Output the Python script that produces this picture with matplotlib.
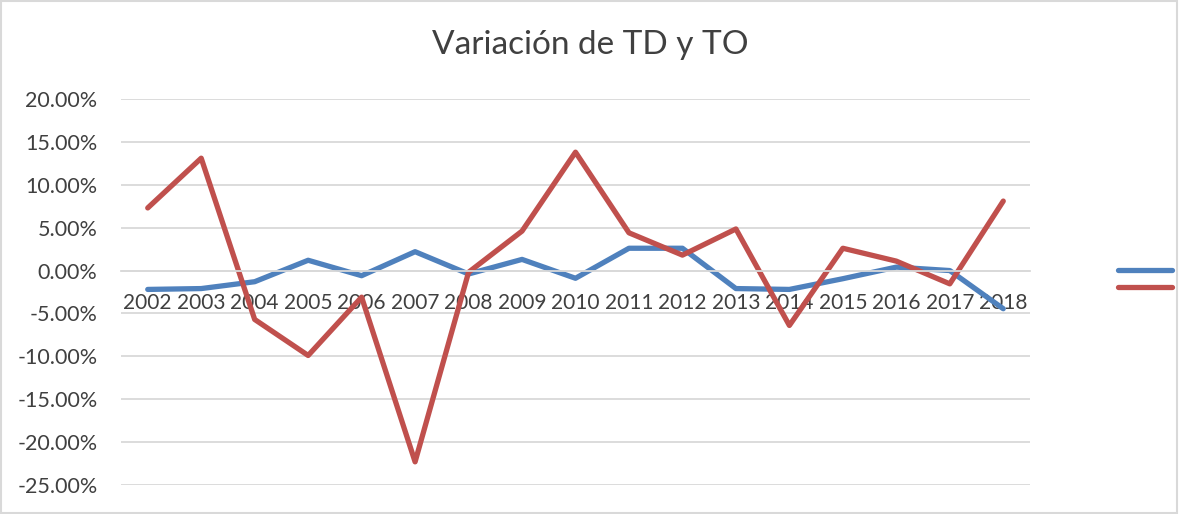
import matplotlib.pyplot as plt
import matplotlib.ticker as mticker
from matplotlib.patches import Rectangle

yrs=['2002','2003','2004','2005','2006','2007','2008','2009','2010',
     '2011','2012','2013','2014','2015','2016','2017','2018']
# variacion TD (azul) y TO (rojo), en fraccion
td=[-0.022,-0.021,-0.013,0.012,-0.006,0.022,-0.004,0.013,-0.009,
    0.026,0.026,-0.021,-0.022,-0.0095,0.004,0.000,-0.0445]
to=[0.073,0.131,-0.057,-0.099,-0.031,-0.223,-0.002,0.046,0.138,
    0.044,0.018,0.0485,-0.064,0.026,0.011,-0.0155,0.081]
yticks=[-0.25,-0.20,-0.15,-0.10,-0.05,0.0,0.05,0.10,0.15,0.20]

plt.rcParams['font.family']=['Lato','DejaVu Sans']
txtc='#404040'
gridc='#d9d9d9'

fig=plt.figure(figsize=(11.79,5.14),dpi=100)
ax=fig.add_axes([121/1179,1-485/514,909/1179,386/514])

x=list(range(len(yrs)))
l1,=ax.plot(x,td,color='#4f81bd',lw=3.8,solid_capstyle='round',solid_joinstyle='round',label=' ')
l2,=ax.plot(x,to,color='#c0504d',lw=3.8,solid_capstyle='round',solid_joinstyle='round',label=' ')

ax.set_xlim(-0.5,len(yrs)-0.5)
ax.set_ylim(-0.25,0.20)
ax.set_yticks(yticks)
ax.yaxis.set_major_formatter(mticker.FuncFormatter(lambda v,p:'%.2f%%'%(v*100)))
ax.grid(axis='y',color=gridc,lw=1.3)
ax.set_axisbelow(True)
for s in ['top','right','left']:
    ax.spines[s].set_visible(False)
ax.spines['bottom'].set_position(('data',0))
ax.spines['bottom'].set_color(gridc)
ax.spines['bottom'].set_linewidth(1.3)
ax.set_xticks(x)
ax.set_xticklabels(yrs)
ax.tick_params(axis='x',length=0,pad=16,labelsize=15,labelcolor=txtc)
ax.tick_params(axis='y',length=0,pad=17,labelsize=15.5,labelcolor=txtc)
for t in ax.get_yticklabels():
    t.set_horizontalalignment('right')

fig.suptitle('Variación de TD y TO',x=590/1179,y=1-45/514,va='center',fontsize=24,color=txtc)

leg=fig.legend(handles=[l1,l2],loc='center left',bbox_to_anchor=(1105/1179,1-279/514),
               frameon=False,handlelength=3.9,labelspacing=0.35,handletextpad=0.2)

fig.patches.append(Rectangle((0.001,0.002),0.997,0.996,transform=fig.transFigure,
                             fill=False,edgecolor=gridc,lw=1.5))
fig.savefig('out.png',dpi=100)
